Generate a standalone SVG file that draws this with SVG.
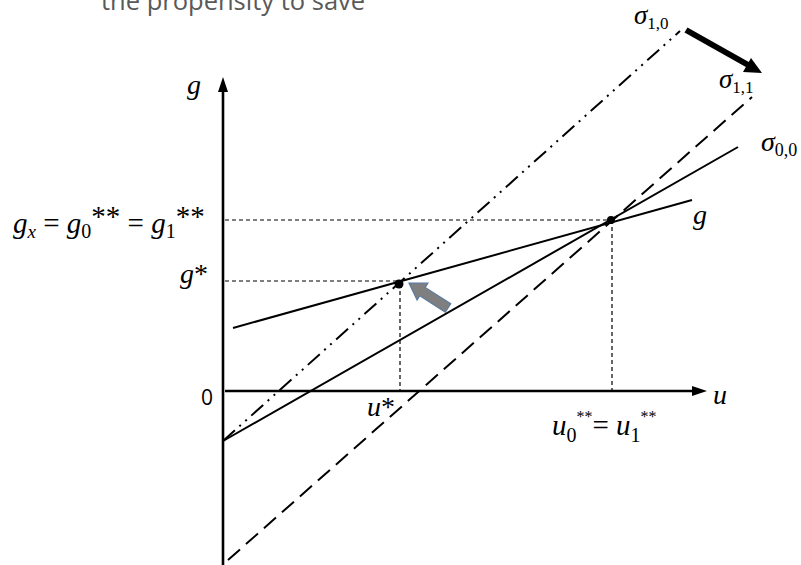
<svg xmlns="http://www.w3.org/2000/svg" width="801" height="565" viewBox="0 0 801 565">
<defs>
<style>
.ln{stroke:#000;stroke-width:2;fill:none}
.ax{stroke:#000;stroke-width:2.6;fill:none}
.gd{stroke:#000;stroke-width:1.2;fill:none;stroke-dasharray:4 3}
.t{font-family:"Liberation Serif",serif;font-style:italic;fill:#000}
.s{font-family:"Liberation Serif",serif;fill:#000;font-style:normal}
</style>
</defs>
<rect width="801" height="565" fill="#fff"/>
<text x="101" y="10" font-family="'Open Sans',sans-serif" font-size="25.5" fill="#595959">the propensity to save</text>
<g id="axes">
<line class="ax" x1="223" y1="565" x2="223" y2="84"/>
<path d="M223,77 L218,92 L228,92 z" fill="#000"/>
<line class="ax" x1="225" y1="391" x2="698" y2="391"/>
<path d="M707,391 L692,386 L692,396 z" fill="#000"/>
<text x="187" y="94" class="t" font-size="28">g</text>
<text x="713" y="404" class="t" font-size="28">u</text>
<text x="201" y="405" font-family="'Open Sans',sans-serif" font-size="21" fill="#000">0</text>
</g>
<g id="connectors">
<line class="gd" x1="225" y1="220" x2="611" y2="220"/>
<line class="gd" x1="225" y1="281" x2="398" y2="281"/>
<line class="gd" x1="400" y1="284" x2="400" y2="391"/>
<line class="gd" x1="612" y1="220" x2="612" y2="391"/>
<line class="ln" x1="223" y1="441" x2="680" y2="31" stroke-dasharray="16 6 2 6 2 6"/>
<line class="ln" x1="223" y1="441" x2="738" y2="147"/>
<line class="ln" x1="228" y1="560" x2="752" y2="97" stroke-dasharray="16 8"/>
<line class="ln" x1="233" y1="328" x2="692" y2="200"/>
<line x1="686" y1="30" x2="750" y2="66" stroke="#000" stroke-width="6"/>
<path d="M762,73 L743,72 L751,58 z" fill="#000"/>
<path d="M409,283 L427.9,283.2 L425.2,287.4 L450.7,303.8 L445.3,312.2 L419.8,295.8 L417.1,300 z" fill="#7f7f7f" stroke="#5a7aa0" stroke-width="1.2"/>
</g>
<g id="points">
<circle cx="611" cy="220" r="4" fill="#000"/>
<circle cx="399" cy="284" r="4.5" fill="#000"/>
</g>
<g id="labels">
<text x="634" y="24" class="t" font-size="27">σ<tspan class="s" font-size="17" dy="5">1,0</tspan></text>
<text x="719" y="88" class="t" font-size="27">σ<tspan class="s" font-size="17" dy="5">1,1</tspan></text>
<text x="761" y="151" class="t" font-size="28">σ<tspan class="s" font-size="18" dy="5">0,0</tspan></text>
<text x="13" y="233" class="t" font-size="29">g<tspan font-size="19" dy="5">x</tspan><tspan class="s" dy="-5"> = </tspan>g<tspan class="s" font-size="20" dy="5">0</tspan><tspan class="s" dy="-12">**</tspan><tspan class="s" dy="7"> = </tspan>g<tspan class="s" font-size="20" dy="5">1</tspan><tspan class="s" dy="-12">**</tspan></text>
<text x="693" y="224" class="t" font-size="28">g</text>
<text x="180" y="283" class="t" font-size="28">g<tspan class="s">*</tspan></text>
<text x="367" y="416" class="t" font-size="28">u<tspan class="s">*</tspan></text>
<text x="552" y="435" class="t" font-size="29">u<tspan class="s" font-size="20" dy="7">0</tspan><tspan class="s" font-size="16" dy="-20">**</tspan><tspan class="s" dy="13">= </tspan>u<tspan class="s" font-size="20" dy="7">1</tspan><tspan class="s" font-size="16" dy="-20">**</tspan></text>
</g>
</svg>
